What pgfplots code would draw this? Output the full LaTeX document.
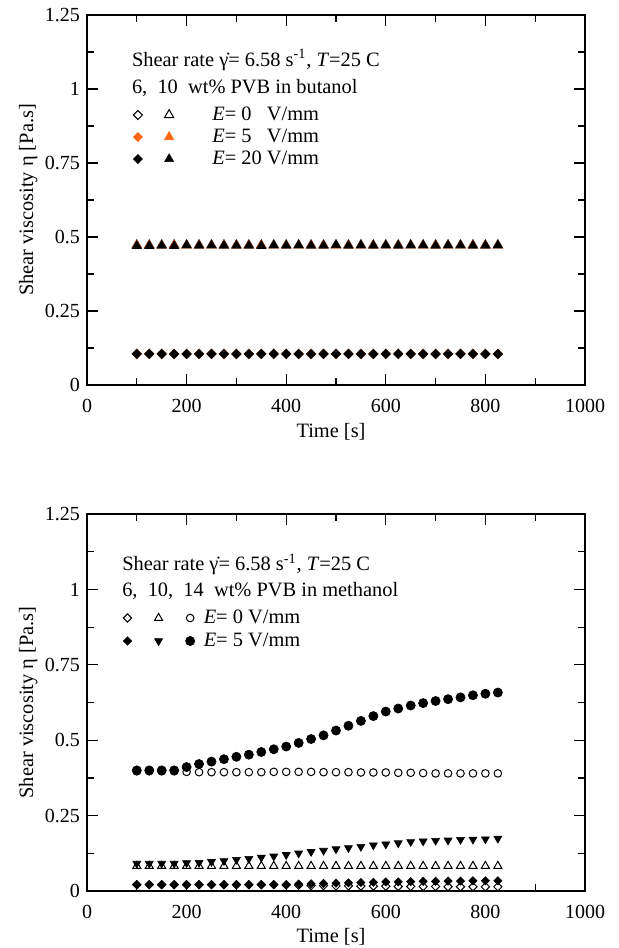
\documentclass[border=0pt]{standalone}
\usepackage{pgfplots}
\pgfplotsset{compat=1.18}
\usepackage{pgfplotstable}
\usepackage{fontspec}
\setmainfont{Liberation Serif}
\definecolor{orng}{RGB}{255,102,20}

\pgfplotstableread{
t   d0    d5    d20   t0    t5    t20
100 0.105 0.105 0.105 0.472 0.472 0.470
125 0.105 0.105 0.105 0.472 0.472 0.470
150 0.105 0.105 0.105 0.472 0.472 0.471
175 0.105 0.105 0.105 0.472 0.472 0.470
200 0.105 0.105 0.105 0.472 0.472 0.472
225 0.105 0.105 0.105 0.472 0.472 0.471
250 0.105 0.105 0.105 0.472 0.472 0.472
275 0.105 0.105 0.105 0.472 0.472 0.471
300 0.105 0.105 0.105 0.472 0.472 0.471
325 0.105 0.105 0.105 0.472 0.472 0.471
350 0.105 0.105 0.105 0.472 0.472 0.470
375 0.105 0.105 0.105 0.472 0.472 0.472
400 0.105 0.105 0.105 0.472 0.472 0.471
425 0.105 0.105 0.105 0.472 0.472 0.472
450 0.105 0.105 0.105 0.472 0.472 0.471
475 0.105 0.105 0.105 0.472 0.472 0.471
500 0.105 0.105 0.105 0.472 0.472 0.473
525 0.105 0.105 0.105 0.472 0.472 0.471
550 0.105 0.105 0.105 0.472 0.472 0.472
575 0.105 0.105 0.105 0.472 0.472 0.471
600 0.105 0.105 0.105 0.472 0.472 0.472
625 0.105 0.105 0.105 0.472 0.472 0.471
650 0.105 0.105 0.105 0.472 0.472 0.472
675 0.105 0.105 0.105 0.472 0.472 0.472
700 0.105 0.105 0.105 0.472 0.472 0.471
725 0.105 0.105 0.105 0.472 0.472 0.472
750 0.105 0.105 0.105 0.472 0.472 0.472
775 0.105 0.105 0.105 0.472 0.472 0.471
800 0.105 0.105 0.105 0.472 0.472 0.471
825 0.105 0.105 0.105 0.472 0.472 0.472
}\toptable

\pgfplotstableread{
t   od    fd    ot    ft    oc    fc
100 0.021 0.021 0.083 0.091 0.397 0.400
125 0.021 0.021 0.083 0.091 0.397 0.400
150 0.021 0.021 0.083 0.091 0.397 0.400
175 0.021 0.021 0.083 0.091 0.397 0.400
200 0.021 0.021 0.083 0.093 0.395 0.411
225 0.021 0.021 0.083 0.094 0.394 0.421
250 0.021 0.021 0.083 0.097 0.394 0.429
275 0.021 0.021 0.083 0.100 0.394 0.437
300 0.021 0.021 0.083 0.104 0.394 0.445
325 0.021 0.021 0.083 0.107 0.394 0.452
350 0.021 0.021 0.083 0.111 0.394 0.461
375 0.021 0.021 0.083 0.115 0.395 0.470
400 0.020 0.021 0.083 0.120 0.395 0.479
425 0.019 0.023 0.083 0.125 0.395 0.491
450 0.018 0.024 0.083 0.130 0.395 0.504
475 0.018 0.025 0.083 0.134 0.394 0.516
500 0.017 0.026 0.083 0.139 0.394 0.532
525 0.017 0.027 0.083 0.143 0.394 0.548
550 0.016 0.028 0.083 0.147 0.393 0.564
575 0.016 0.029 0.083 0.152 0.393 0.580
600 0.016 0.030 0.083 0.155 0.393 0.595
625 0.015 0.030 0.083 0.159 0.392 0.605
650 0.015 0.031 0.083 0.163 0.392 0.615
675 0.015 0.032 0.083 0.165 0.391 0.623
700 0.015 0.032 0.083 0.167 0.390 0.630
725 0.014 0.033 0.083 0.168 0.390 0.636
750 0.014 0.033 0.083 0.170 0.390 0.642
775 0.014 0.034 0.083 0.171 0.390 0.649
800 0.014 0.034 0.083 0.172 0.390 0.654
825 0.014 0.034 0.083 0.174 0.390 0.658
}\bottable

\pgfplotsset{
  myaxis/.style={
    scale only axis, width=249pt,
    xmin=0, xmax=1000, ymin=0, ymax=1.25,
    xtick={0,200,400,600,800,1000},
    ytick={0,0.25,0.5,0.75,1,1.25},
    minor x tick num=1, minor y tick num=1,
    tick align=inside,
    major tick length=5.5pt, minor tick length=3.5pt,
    axis line style={line width=0.7pt},
    every tick/.style={black, line width=0.6pt},
    /pgf/number format/assume math mode=true,
    /pgf/number format/1000 sep={},
    tick label style={font=\fontsize{10}{12}\selectfont},
    xticklabel style={yshift=-3.5pt},
    xlabel={Time [s]},
    ylabel={Shear viscosity η [Pa.s]},
    every axis y label/.style={at={(axis description cs:-0.118,0.5)}, rotate=90, anchor=center},
    legend cell align=left,
    legend image code/.code={\draw[##1] plot coordinates {(0pt,0pt)};},
  },
  odia/.style={only marks, mark=square*, mark size=#1, mark options={rotate=45, draw=black, fill=white, line width=0.5pt}},
  fdia/.style={only marks, mark=square*, mark size=#1, mark options={rotate=45, draw=black, fill=black, line width=0.3pt}},
  odiaO/.style={only marks, mark=square*, mark size=#1, mark options={rotate=45, draw=orng, fill=orng, line width=0.3pt}},
  otri/.style={only marks, mark=triangle*, mark size=#1, mark options={draw=black, fill=white, line width=0.5pt}},
  ftri/.style={only marks, mark=triangle*, mark size=#1, mark options={draw=black, fill=black, line width=0.3pt}},
  ftriO/.style={only marks, mark=triangle*, mark size=#1, mark options={draw=orng, fill=orng, line width=0.3pt}},
  fdtri/.style={only marks, mark=triangle*, mark size=#1, mark options={rotate=180, draw=black, fill=black, line width=0.3pt}},
  ocirc/.style={only marks, mark=*, mark size=#1, mark options={draw=black, fill=white, line width=0.5pt}},
  fcirc/.style={only marks, mark=*, mark size=#1, mark options={draw=black, fill=black, line width=0.3pt}},
}

\begin{document}
\fontsize{10.2}{12}\selectfont
\begin{tikzpicture}[font=\fontsize{10.2}{12}\selectfont]
\path[use as bounding box] (0pt,0pt) rectangle (309.5pt,-474pt);

% ---------- top panel ----------
\begin{axis}[myaxis, height=185pt,
  at={(43.5pt,-192.5pt)}, anchor=south west,
  every axis x label/.style={at={(axis description cs:0.49,-0.126)}, anchor=center},
  legend columns=2,
  legend style={draw=none, fill=none, at={(0.0932,0.754)}, anchor=north west,
    inner sep=0pt, outer sep=0pt, row sep=2pt,
    nodes={inner sep=0pt, text height=7pt, text depth=2pt},
    /tikz/every odd column/.style={column sep=19.25pt},
    /tikz/every even column/.style={column sep=-9.25pt}},
]
\addplot[odia=1.6pt]  table[x=t,y=d0]  {\toptable}; \addlegendentry{\mbox{}}
\addplot[otri=2.7pt]  table[x=t,y=t0]  {\toptable}; \addlegendentry{\textit{E}= 0\phantom{0} V/mm}
\addplot[odiaO=1.6pt] table[x=t,y=d5]  {\toptable}; \addlegendentry{\mbox{}}
\addplot[ftriO=2.7pt] table[x=t,y=t5]  {\toptable}; \addlegendentry{\textit{E}= 5\phantom{0} V/mm}
\addplot[fdia=1.6pt]  table[x=t,y=d20] {\toptable}; \addlegendentry{\mbox{}}
\addplot[ftri=2.6pt]  table[x=t,y=t20] {\toptable}; \addlegendentry{\textit{E}= 20 V/mm}
\node[anchor=base west, inner sep=0pt] at (rel axis cs:0.0896,0.862)
  {Shear rate γ̇= 6.58 s\textsuperscript{-1}, \textit{T}=25 C};
\node[anchor=base west, inner sep=0pt] at (rel axis cs:0.0896,0.789)
  {6,~~10~~wt\% PVB in butanol};
\end{axis}

% ---------- bottom panel ----------
\begin{axis}[myaxis, height=188.5pt,
  at={(43.5pt,-445.5pt)}, anchor=south west,
  every axis x label/.style={at={(axis description cs:0.49,-0.121)}, anchor=center},
  legend columns=3,
  legend style={draw=none, fill=none, at={(0.0731,0.748)}, anchor=north west,
    inner sep=0pt, outer sep=0pt, row sep=2.5pt,
    nodes={inner sep=0pt, text height=7pt, text depth=2pt},
    /tikz/every odd column/.style={column sep=4.5pt},
    /tikz/every even column/.style={column sep=6pt}},
]
\addplot[odia=1.45pt]  table[x=t,y=od] {\bottable}; \addlegendentry{\mbox{}}
\addplot[otri=2.3pt]   table[x=t,y=ot] {\bottable}; \addlegendentry{\mbox{}}
\addplot[ocirc=1.9pt]  table[x=t,y=oc] {\bottable}; \addlegendentry{\textit{E}= 0 V/mm}
\addplot[fdia=1.45pt]  table[x=t,y=fd] {\bottable}; \addlegendentry{\mbox{}}
\addplot[fdtri=2.3pt]  table[x=t,y=ft] {\bottable}; \addlegendentry{\mbox{}}
\addplot[fcirc=2.3pt]  table[x=t,y=fc] {\bottable}; \addlegendentry{\textit{E}= 5 V/mm}
\node[anchor=base west, inner sep=0pt] at (rel axis cs:0.070,0.849)
  {Shear rate γ̇= 6.58 s\textsuperscript{-1}, \textit{T}=25 C};
\node[anchor=base west, inner sep=0pt] at (rel axis cs:0.070,0.782)
  {6,~~10,~~14~~wt\% PVB in methanol};
\end{axis}
\end{tikzpicture}
\end{document}
